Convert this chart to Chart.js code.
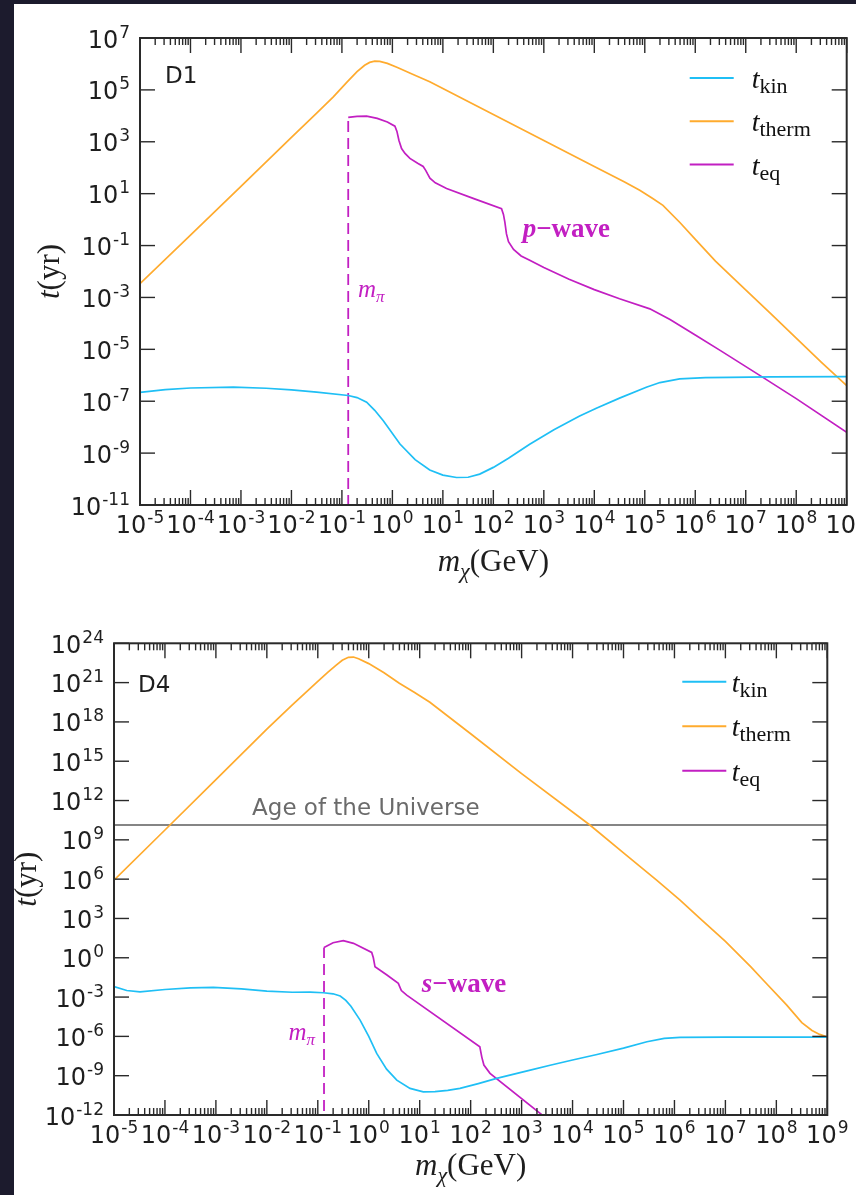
<!DOCTYPE html>
<html>
<head>
<meta charset="utf-8">
<script src="https://cdn.jsdelivr.net/npm/chart.js@4.4.1/dist/chart.umd.min.js"></script>
<style>
  html, body { margin: 0; padding: 0; }
  body { background: #1c1b2d; width: 856px; height: 1195px; overflow: hidden; position: relative; }
  #sheet { position: absolute; left: 14px; top: 4px; width: 842px; height: 1191px; background: #fff; }
  canvas { position: absolute; left: 14px; }
  #d1 { top: 4px; }
  #d4 { top: 590px; }
</style>
</head>
<body>
<div id="sheet"></div>
<canvas id="d1" width="842" height="586"></canvas>
<canvas id="d4" width="842" height="605"></canvas>
<script>
// values, as [log10(m_chi / GeV), log10(t / yr)]
const d1Kin = [[-5,-6.66],[-4.5,-6.55],[-4,-6.49],[-3.15,-6.46],[-2.5,-6.5],[-2,-6.56],[-1.5,-6.65],[-0.875,-6.78],
  [-0.7,-6.86],[-0.51,-7.04],[-0.35,-7.35],[-0.18,-7.75],[0.15,-8.65],[0.45,-9.25],[0.74,-9.65],[1.0,-9.85],
  [1.27,-9.94],[1.5,-9.93],[1.73,-9.81],[2.0,-9.55],[2.3,-9.2],[2.72,-8.66],[3.2,-8.1],[3.7,-7.58],[4.04,-7.27],
  [4.5,-6.88],[5.03,-6.46],[5.3,-6.28],[5.69,-6.14],[6.2,-6.09],[6.68,-6.08],[7.5,-6.06],[9,-6.05]];
const d1Therm = [[-5,-2.47],[-4,-0.6],[-3,1.28],[-2,3.17],[-1.5,4.1],[-1.17,4.73],[-0.9,5.3],[-0.7,5.7],[-0.55,5.95],
  [-0.45,6.06],[-0.35,6.11],[-0.25,6.1],[-0.1,6.02],[0.1,5.86],[0.4,5.6],[0.74,5.31],[1,5.05],[2,4.05],[3,3.05],
  [4,2.05],[4.6,1.45],[4.9,1.13],[5.15,0.82],[5.36,0.55],[5.7,-0.12],[6.02,-0.8],[6.4,-1.6],[6.8,-2.34],[7.5,-3.63],
  [8,-4.57],[8.5,-5.5],[9,-6.4]];
const d1Eq = [[-0.875,3.94],[-0.7,3.98],[-0.51,3.99],[-0.3,3.9],[-0.1,3.76],[0.05,3.6],[0.09,3.4],[0.13,3.05],
  [0.182,2.74],[0.25,2.55],[0.347,2.36],[0.5,2.17],[0.61,2.05],[0.66,1.9],[0.7,1.75],[0.743,1.6],[0.85,1.42],
  [1.073,1.2],[1.6,0.82],[2.162,0.42],[2.2,0.2],[2.228,-0.1],[2.26,-0.55],[2.3,-0.85],[2.4,-1.15],[2.55,-1.4],
  [2.72,-1.57],[3,-1.85],[3.5,-2.3],[4,-2.7],[4.5,-3.05],[5.1,-3.44],[5.5,-3.85],[6,-4.45],[6.5,-5.05],[7.34,-6.08],
  [8,-6.9],[9,-8.2]];

const d4Kin = [[-5,-2.2],[-4.75,-2.5],[-4.49,-2.6],[-4,-2.42],[-3.5,-2.3],[-3.05,-2.26],[-2.5,-2.38],[-2,-2.55],
  [-1.5,-2.63],[-1.15,-2.62],[-0.89,-2.67],[-0.7,-2.75],[-0.56,-2.92],[-0.45,-3.25],[-0.35,-3.7],[-0.17,-4.76],
  [0,-6.0],[0.156,-7.3],[0.35,-8.5],[0.55,-9.34],[0.81,-9.97],[1.07,-10.23],[1.3,-10.22],[1.55,-10.12],[1.79,-9.97],
  [2.15,-9.6],[2.51,-9.2],[3.17,-8.57],[3.56,-8.2],[4.0,-7.8],[4.48,-7.38],[5.0,-6.9],[5.46,-6.41],[5.8,-6.15],
  [6.11,-6.08],[7,-6.06],[9,-6.06]];
const d4Therm = [[-5,5.93],[-4,9.75],[-3,13.6],[-2,17.45],[-1.5,19.3],[-1,21.1],[-0.8,21.8],[-0.65,22.3],[-0.52,22.7],
  [-0.4,22.93],[-0.3,22.95],[-0.2,22.82],[0,22.45],[0.3,21.75],[0.6,20.95],[0.9,20.25],[1.2,19.5],[2,17.1],[3,14.05],
  [4.34,10.13],[5,8.0],[5.65,5.93],[6.11,4.4],[6.5,3.0],[7,1.25],[7.5,-0.7],[7.74,-1.7],[8.2,-3.6],[8.5,-4.95],
  [8.7,-5.55],[8.85,-5.85],[9,-6.05]];
const d4Eq = [[-0.878,0.79],[-0.7,1.15],[-0.5,1.3],[-0.3,1.1],[0.058,0.41],[0.09,0.0],[0.123,-0.69],[0.35,-1.3],
  [0.58,-1.95],[0.64,-2.5],[0.745,-2.85],[2.18,-6.79],[2.22,-7.6],[2.26,-8.19],[2.38,-8.82],[3.5,-12.3]];

const ageOfUniverse = 1.38e10; // yr
const xExp = [-5, 9];          // x axis decades
const d1YExp = [-11, -9, -7, -5, -3, -1, 1, 3, 5, 7];
const d4YExp = [-12, -9, -6, -3, 0, 3, 6, 9, 12, 15, 18, 21, 24];

const KIN = '#1fbff5', THERM = '#ffab2e', EQ = '#c21fc2';
const SANS = '"DejaVu Sans", sans-serif';
const SERIF = '"Liberation Serif", "DejaVu Serif", serif';

const pts = arr => arr.map(p => ({ x: 10 ** p[0], y: 10 ** p[1] }));

// "10" with a raised exponent, like matplotlib's log tick labels
function drawPow(ctx, exp, x, y, align) {
  const sup = String(exp);
  ctx.font = '24px ' + SANS;
  const wb = ctx.measureText('10').width;
  ctx.font = '17px ' + SANS;
  const ws = ctx.measureText(sup).width;
  const total = wb + ws + 1;
  const x0 = align === 'center' ? x - total / 2 : x - total;
  ctx.textAlign = 'left';
  ctx.textBaseline = 'alphabetic';
  ctx.font = '24px ' + SANS;
  ctx.fillText('10', x0, y);
  ctx.font = '17px ' + SANS;
  ctx.fillText(sup, x0 + wb + 1, y - 10);
}

// pieces of "math" text: [text, font, dy]
function drawMath(ctx, parts, x, y, align) {
  ctx.textAlign = 'left';
  ctx.textBaseline = 'alphabetic';
  let w = 0;
  parts.forEach(p => { ctx.font = p[1]; w += ctx.measureText(p[0]).width; });
  let cx = align === 'right' ? x - w : align === 'center' ? x - w / 2 : x;
  parts.forEach(p => {
    ctx.font = p[1];
    ctx.fillText(p[0], cx, y + (p[2] || 0));
    cx += ctx.measureText(p[0]).width;
  });
}

const mplAxes = {
  id: 'mplAxes',
  afterDatasetsDraw(chart, args, o) {
    const { ctx, chartArea: a, scales: { x, y } } = chart;
    const seg = (x1, y1, x2, y2) => { ctx.beginPath(); ctx.moveTo(x1, y1); ctx.lineTo(x2, y2); ctx.stroke(); };
    ctx.save();
    ctx.strokeStyle = '#2a2a2a';
    ctx.lineWidth = 1.4;

    // inward ticks on all four sides
    for (let e = xExp[0]; e <= xExp[1]; e++) {
      for (let k = 1; k <= 9; k++) {
        if (e === xExp[1] && k > 1) break;
        const px = x.getPixelForValue(k * 10 ** e);
        const len = k === 1 ? 15 : 7;
        seg(px, a.bottom, px, a.bottom - len);
        seg(px, a.top, px, a.top + len);
      }
    }
    o.yExp.forEach(e => {
      const py = y.getPixelForValue(10 ** e);
      seg(a.left, py, a.left + 15, py);
      seg(a.right, py, a.right - 15, py);
    });
    ctx.lineWidth = 2;
    ctx.strokeRect(a.left, a.top, a.right - a.left, a.bottom - a.top);

    // tick labels
    ctx.fillStyle = '#1e1e1e';
    for (let e = xExp[0]; e <= xExp[1]; e++) {
      drawPow(ctx, e, x.getPixelForValue(10 ** e), a.bottom + 28, 'center');
    }
    o.yExp.forEach(e => drawPow(ctx, e, a.left - 10, y.getPixelForValue(10 ** e) + 9.5, 'right'));

    // axis titles
    const big = 'italic 31px ' + SERIF, rom = '31px ' + SERIF;
    drawMath(ctx, [['m', big], ['\u03c7', 'italic 22px ' + SERIF, 7], ['(GeV)', rom]],
      (a.left + a.right) / 2, a.bottom + o.xTitleDy, 'center');
    ctx.save();
    ctx.translate(o.yTitleX, (a.top + a.bottom) / 2);
    ctx.rotate(-Math.PI / 2);
    drawMath(ctx, [['t', big], ['(yr)', rom]], 0, 9, 'center');
    ctx.restore();

    // panel tag
    ctx.font = '23px ' + SANS;
    ctx.fillText(o.tag, a.left + o.tagPos[0], a.top + o.tagPos[1]);

    // annotations placed in data coordinates
    o.notes.forEach(n => {
      ctx.fillStyle = n.color;
      drawMath(ctx, n.parts, x.getPixelForValue(10 ** n.at[0]), y.getPixelForValue(10 ** n.at[1]), n.align);
    });

    // legend inside the axes, top right
    const subs = ['kin', 'therm', 'eq'];
    chart.data.datasets.filter(d => d.label).forEach((d, i) => {
      const ry = a.top + o.legend.top + i * o.legend.step;
      ctx.strokeStyle = d.borderColor;
      ctx.lineWidth = 2;
      seg(a.right - o.legend.line, ry, a.right - o.legend.line + 44, ry);
      ctx.fillStyle = '#111';
      drawMath(ctx, [['t', 'italic 28px ' + SERIF], [subs[i], '22px ' + SERIF, 5]], a.right - o.legend.text, ry + 10, 'left');
    });
    ctx.restore();
  }
};

function curve(label, color, data) {
  return { label, data: pts(data), borderColor: color, borderWidth: 1.7, pointRadius: 0,
    fill: false, tension: 0 };
}

function makeChart(id, yRange, padding, datasets, axesOpts) {
  return new Chart(document.getElementById(id), {
    type: 'line',
    data: { datasets },
    options: {
      responsive: false,
      animation: false,
      devicePixelRatio: 1,
      layout: { padding },
      parsing: false,
      scales: {
        x: { type: 'logarithmic', min: 10 ** xExp[0], max: 10 ** xExp[1], display: false },
        y: { type: 'logarithmic', min: yRange[0], max: yRange[1], display: false }
      },
      plugins: { legend: { display: false }, tooltip: { enabled: false }, mplAxes: axesOpts }
    },
    plugins: [mplAxes]
  });
}

const mPi = (eq) => ({ data: [{ x: 10 ** eq[0][0], y: 1e-13 }, { x: 10 ** eq[0][0], y: 10 ** eq[0][1] }],
  borderColor: EQ, borderWidth: 1.8, borderDash: [11, 6], pointRadius: 0, fill: false });

// D1
makeChart('d1', [1e-11, 1e7], { left: 126, top: 34, right: 9.3, bottom: 85 }, [
  curve('kin', KIN, d1Kin),
  curve('therm', THERM, d1Therm),
  curve('eq', EQ, d1Eq),
  mPi(d1Eq)
], {
  yExp: d1YExp, tag: 'D1', tagPos: [25, 45], xTitleDy: 66, yTitleX: 36,
  legend: { top: 40, step: 43.3, line: 157, text: 95 },
  notes: [
    { parts: [['m', 'italic 25px ' + SERIF], ['\u03c0', 'italic 17px ' + SERIF, 5]], at: [-0.68, -3.0], align: 'left', color: EQ },
    { parts: [['p', 'bold italic 27px ' + SERIF], ['\u2212wave', 'bold 27px ' + SERIF]], at: [2.58, -0.68], align: 'left', color: EQ }
  ]
});

// D4
makeChart('d4', [1e-12, 1e24], { left: 100, top: 53.3, right: 28.7, bottom: 80 }, [
  curve('kin', KIN, d4Kin),
  curve('therm', THERM, d4Therm),
  curve('eq', EQ, d4Eq),
  mPi(d4Eq),
  { data: [{ x: 1e-5, y: ageOfUniverse }, { x: 1e9, y: ageOfUniverse }], borderColor: '#5c5c5c',
    borderWidth: 1.5, pointRadius: 0, fill: false }
], {
  yExp: d4YExp, tag: 'D4', tagPos: [24, 49], xTitleDy: 60, yTitleX: 13,
  legend: { top: 38.4, step: 44.5, line: 145, text: 95.6 },
  notes: [
    { parts: [['m', 'italic 25px ' + SERIF], ['\u03c0', 'italic 17px ' + SERIF, 5]], at: [-1.055, -6.28], align: 'right', color: EQ },
    { parts: [['s', 'bold italic 27px ' + SERIF], ['\u2212wave', 'bold 27px ' + SERIF]], at: [1.04, -2.62], align: 'left', color: EQ },
    { parts: [['Age of the Universe', '23px ' + SANS]], at: [-2.29, 10.9], align: 'left', color: '#6b6b6b' }
  ]
});
</script>
</body>
</html>
